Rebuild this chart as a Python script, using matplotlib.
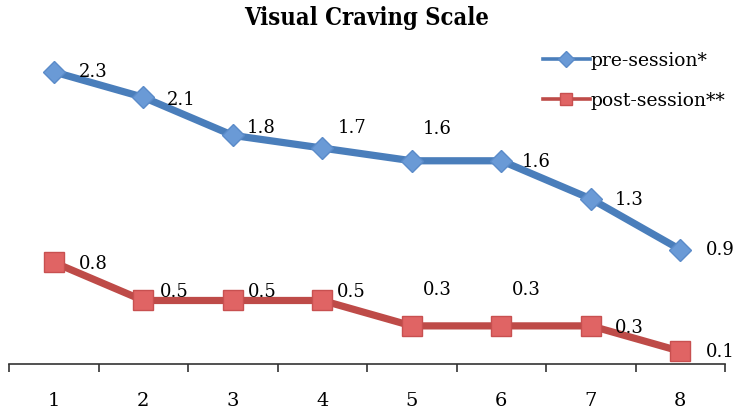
import matplotlib

matplotlib.use("Agg")
import matplotlib.pyplot as plt
from matplotlib.lines import Line2D

# ── Data
sessions = [1, 2, 3, 4, 5, 6, 7, 8]
pre_session = [2.3, 2.1, 1.8, 1.7, 1.6, 1.6, 1.3, 0.9]
post_session = [0.8, 0.5, 0.5, 0.5, 0.3, 0.3, 0.3, 0.1]
series_names = ["pre-session*", "post-session**"]

# data label offsets in pixels (dx to left edge, dy up to centre)
pre_offsets = [(25, 0), (24, -3), (14, 7), (15, 20), (11, 32), (20, -1), (24, -1), (25, 0)]
post_offsets = [(25, -2), (17, 8), (15, 8), (15, 8), (11, 36), (11, 36), (24, -2), (25, -1)]

BLUE_LINE = "#4a7ebb"
BLUE_MARK = "#6a9ad6"
RED_LINE = "#be4b48"
RED_MARK = "#e06464"
SERIF = "DejaVu Serif"
PX = 0.72  # points per pixel at dpi 100

fig = plt.figure(figsize=(7.33, 4.11), dpi=100)
ax = fig.add_axes([0.0123, 0.1144, 0.977, 0.7725])

ax.plot(sessions, pre_session, color=BLUE_LINE, linewidth=5.2, marker="D",
        markersize=11, markerfacecolor=BLUE_MARK, markeredgecolor="#5b8bc9",
        markeredgewidth=1, zorder=3)
ax.plot(sessions, post_session, color=RED_LINE, linewidth=5.2, marker="s",
        markersize=15, markerfacecolor=RED_MARK, markeredgecolor="#c85050",
        markeredgewidth=1, zorder=3)

for vals, offs in ((pre_session, pre_offsets), (post_session, post_offsets)):
    for x, v, (dx, dy) in zip(sessions, vals, offs):
        ax.annotate(f"{v:.1f}", (x, v), xytext=(dx * PX, dy * PX),
                    textcoords="offset points", ha="left", va="center",
                    fontsize=13, family=SERIF, zorder=4, annotation_clip=False)

ax.set_xlim(0.5, 8.5)
ax.set_ylim(0, 2.5)
for side in ("left", "right", "top"):
    ax.spines[side].set_visible(False)
ax.spines["bottom"].set_color("#333333")
ax.spines["bottom"].set_linewidth(1.2)
ax.set_yticks([])

# category ticks sit between the groups, labels at group centres
ax.set_xticks([s - 0.5 for s in sessions] + [sessions[-1] + 0.5])
ax.set_xticklabels([])
ax.set_xticks(sessions, minor=True)
ax.set_xticklabels([str(s) for s in sessions], minor=True, fontsize=14, family=SERIF)
ax.tick_params(axis="x", which="major", length=6, width=1.2, color="#333333", direction="out")
ax.tick_params(axis="x", which="minor", length=0, pad=20)

handles = [
    Line2D([], [], color=BLUE_LINE, linewidth=2.6, marker="D", markersize=8,
           markerfacecolor=BLUE_MARK, markeredgecolor="#5b8bc9"),
    Line2D([], [], color=RED_LINE, linewidth=2.6, marker="s", markersize=9,
           markerfacecolor=RED_MARK, markeredgecolor="#c85050"),
]
ax.legend(handles, series_names, loc="upper left", bbox_to_anchor=(543 / 733, 1 - 52 / 411),
          bbox_transform=fig.transFigure, frameon=False, borderpad=0, borderaxespad=0,
          prop={"family": SERIF, "size": 13.5}, handlelength=2.5,
          handletextpad=0.05, labelspacing=1.15)

fig.text(0.5, 1 - 18 / 411, "Visual Craving Scale", ha="center", va="center",
         fontsize=17, fontweight="bold",
         family=["DejaVu Serif Condensed", "DejaVu Serif"], fontstretch="condensed")

fig.savefig("out.png", dpi=100)
